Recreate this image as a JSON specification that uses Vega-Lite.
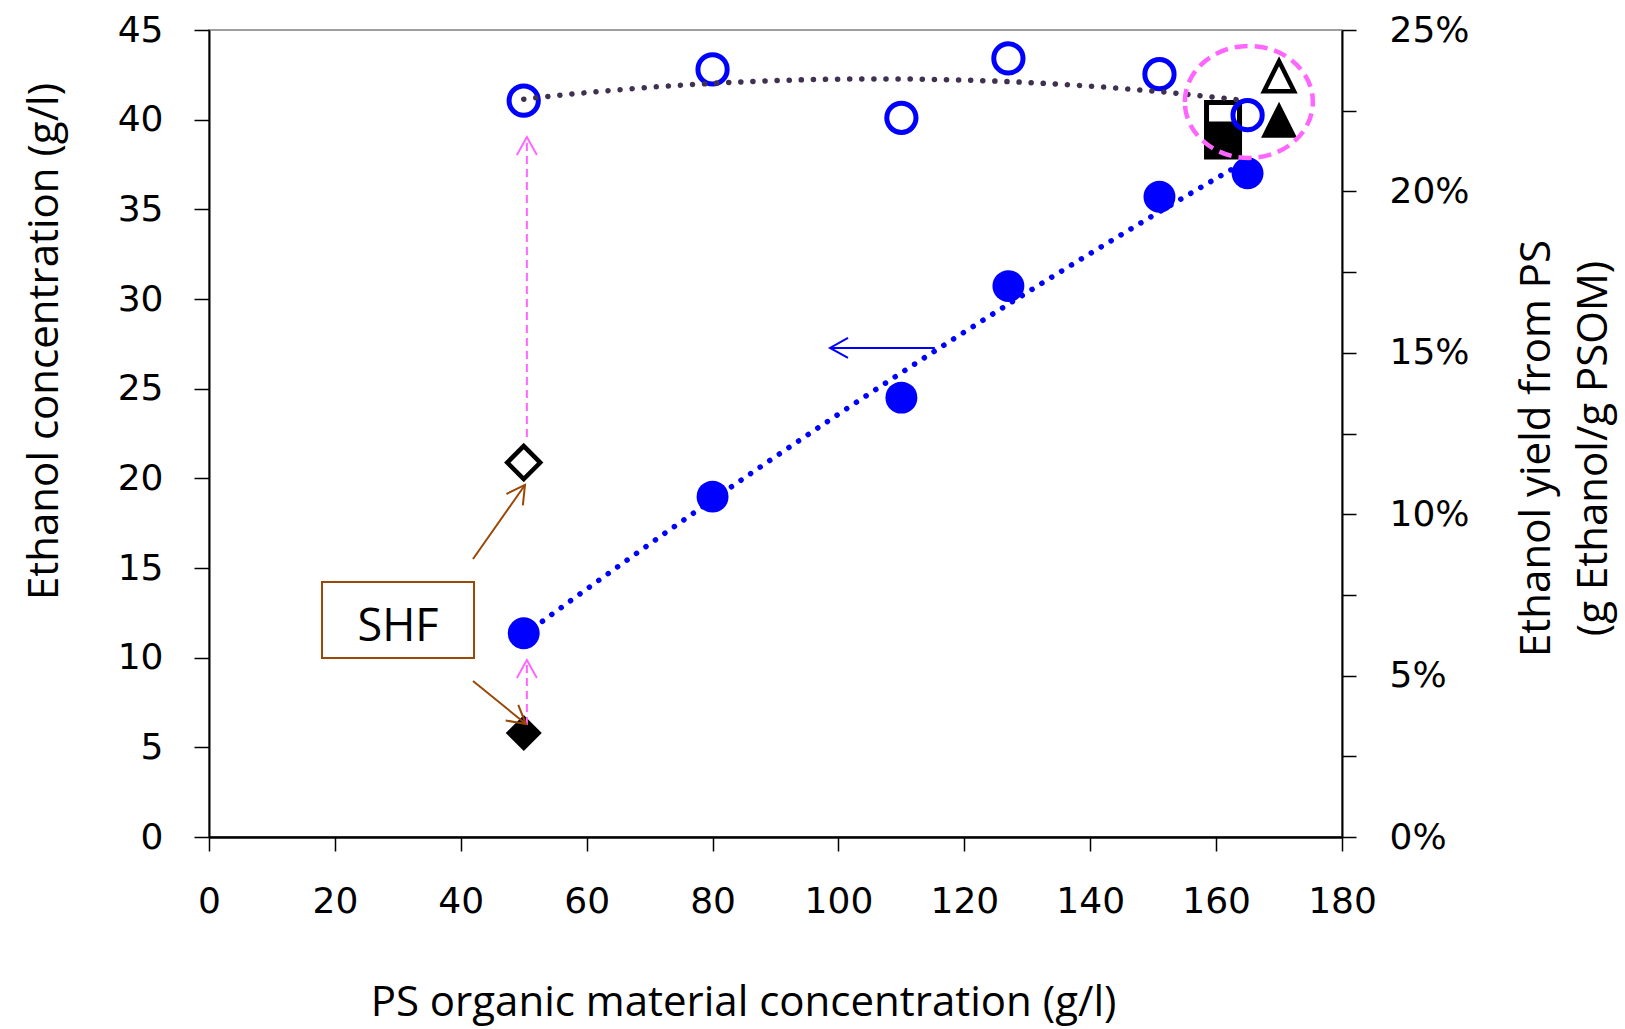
{
  "$schema": "https://vega.github.io/schema/vega-lite/v6.json",
  "width": 1133,
  "height": 807,
  "autosize": {"type": "none"},
  "padding": {"left": 209, "top": 30, "right": 283, "bottom": 192},
  "background": "white",
  "config": {
    "view": {"stroke": "#7f7f7f", "strokeWidth": 1.5},
    "axis": {
      "grid": false,
      "domainColor": "black",
      "tickColor": "black",
      "labelColor": "black",
      "titleColor": "black",
      "labelFont": "DejaVu Sans",
      "labelFontSize": 36,
      "titleFont": "Open Sans",
      "titleFontSize": 42,
      "titleFontWeight": "normal",
      "labelFlush": false,
      "labelOverlap": false
    }
  },
  "datasets": {
    "pts": [
      {"series": "conc", "x": 50, "y": 11.36},
      {"series": "conc", "x": 80, "y": 18.98},
      {"series": "conc", "x": 110, "y": 24.5},
      {"series": "conc", "x": 127, "y": 30.72},
      {"series": "conc", "x": 151, "y": 35.7},
      {"series": "conc", "x": 165, "y": 37.01},
      {"series": "shf_conc", "x": 50, "y": 5.8},
      {"series": "sq_conc", "x": 161.1, "y": 38.84},
      {"series": "tri_conc", "x": 170, "y": 40.0}
    ],
    "yields": [
      {"series": "yield", "x": 50, "y": 0.2281},
      {"series": "yield", "x": 80, "y": 0.2378},
      {"series": "yield", "x": 110, "y": 0.2228},
      {"series": "yield", "x": 127, "y": 0.2412},
      {"series": "yield", "x": 151, "y": 0.2363},
      {"series": "yield", "x": 165, "y": 0.2236},
      {"series": "shf_yield", "x": 50, "y": 0.116},
      {"series": "sq_yield", "x": 161.1, "y": 0.2224},
      {"series": "tri_yield", "x": 170, "y": 0.2357}
    ],
    "pinkShaft": [
      {"id": 1, "x": 50.5, "y": 22.3},
      {"id": 1, "x": 50.5, "y": 39.0},
      {"id": 2, "x": 50.5, "y": 6.25},
      {"id": 2, "x": 50.5, "y": 9.87}
    ],
    "pinkHead": [
      {"x": 50.5, "y": 39.03},
      {"x": 50.5, "y": 9.87}
    ],
    "brownShaft": [
      {"id": 1, "x": 41.94, "y": 15.5},
      {"id": 1, "x": 50.2, "y": 19.63},
      {"id": 2, "x": 41.94, "y": 8.7},
      {"id": 2, "x": 50.35, "y": 6.3}
    ],
    "brownHead1": [{"x": 50.2, "y": 19.63}],
    "brownHead2": [{"x": 50.35, "y": 6.3}],
    "blueShaft": [
      {"id": 1, "x": 115.3, "y": 27.27},
      {"id": 1, "x": 98.66, "y": 27.27}
    ],
    "blueHead": [{"x": 98.66, "y": 27.27}],
    "ellipse": [{"x": 165.2, "y": 40.99}],
    "shf": [{"x": 30.03, "y": 12.1, "label": "SHF"}]
  },
  "encoding": {
    "x": {
      "field": "x",
      "type": "quantitative",
      "scale": {"domain": [0, 180], "nice": false, "zero": false},
      "axis": {
        "orient": "bottom",
        "values": [0, 20, 40, 60, 80, 100, 120, 140, 160, 180],
        "title": "PS organic material concentration (g/l)",
        "tickSize": 14,
        "tickWidth": 1.5,
        "domainWidth": 2.5,
        "labelPadding": 33,
        "titleX": 534,
        "titleY": 165,
        "titleBaseline": "middle",
        "titleAlign": "center"
      }
    }
  },
  "layer": [
    {
      "encoding": {
        "y": {
          "field": "y",
          "type": "quantitative",
          "scale": {"domain": [0, 45], "nice": false, "zero": false},
          "axis": {
            "orient": "left",
            "values": [0, 5, 10, 15, 20, 25, 30, 35, 40, 45],
            "title": "Ethanol concentration (g/l)",
            "tickSize": 15,
            "tickWidth": 1.5,
            "domainWidth": 2,
            "labelPadding": 31,
            "titleAngle": -90,
            "titleX": -165,
            "titleY": 311,
            "titleBaseline": "middle",
            "titleAlign": "center"
          }
        }
      },
      "layer": [
        {
          "data": {"name": "pts"},
          "transform": [{"filter": "datum.series == 'sq_conc'"}],
          "mark": {"type": "point", "shape": "square", "filled": true, "size": 1444, "color": "black", "opacity": 1}
        },
        {
          "data": {"name": "pts"},
          "transform": [{"filter": "datum.series == 'tri_conc'"}],
          "mark": {"type": "point", "shape": "M 0 -1 L 1 1 L -1 1 Z", "filled": true, "size": 1296, "color": "black", "opacity": 1}
        },
        {
          "data": {"name": "pts"},
          "transform": [{"filter": "datum.series == 'shf_conc'"}],
          "mark": {"type": "point", "shape": "diamond", "filled": true, "size": 1296, "color": "black", "opacity": 1}
        },
        {
          "data": {"name": "pts"},
          "transform": [{"filter": "datum.series == 'conc'"}],
          "mark": {"type": "point", "shape": "circle", "filled": true, "size": 1018, "color": "#0000FF", "opacity": 1}
        },
        {
          "data": {"name": "pts"},
          "transform": [
            {"filter": "datum.series == 'conc'"},
            {"regression": "y", "on": "x", "method": "poly", "order": 2, "extent": [50, 165]}
          ],
          "mark": {"type": "line", "color": "#0000FF", "strokeWidth": 5.5, "strokeDash": [0.1, 11.5], "strokeCap": "round"}
        }
      ]
    },
    {
      "encoding": {
        "y": {
          "field": "y",
          "type": "quantitative",
          "scale": {"domain": [0, 0.25], "nice": false, "zero": false},
          "axis": {
            "orient": "right",
            "values": [0, 0.025, 0.05, 0.075, 0.1, 0.125, 0.15, 0.175, 0.2, 0.225, 0.25],
            "labelExpr": "round(datum.value * 1000) % 50 == 0 ? format(datum.value, '.0%') : ''",
            "tickSize": 14,
            "tickWidth": 1.5,
            "domainWidth": 2,
            "labelPadding": 33,
            "title": ["Ethanol yield from PS", "(g Ethanol/g PSOM)"],
            "titleAngle": -90,
            "titleX": 194,
            "titleY": 418,
            "titleBaseline": "middle",
            "titleAlign": "center",
            "titleLineHeight": 57
          }
        }
      },
      "layer": [
        {
          "data": {"name": "yields"},
          "transform": [{"filter": "datum.series == 'sq_yield'"}],
          "mark": {"type": "point", "shape": "square", "filled": false, "size": 1089, "color": "black", "strokeWidth": 5, "opacity": 1}
        },
        {
          "data": {"name": "yields"},
          "transform": [{"filter": "datum.series == 'tri_yield'"}],
          "mark": {"type": "point", "shape": "M 0 -1 L 1 1 L -1 1 Z", "filled": false, "size": 900, "color": "black", "strokeWidth": 4.5, "opacity": 1}
        },
        {
          "data": {"name": "yields"},
          "transform": [{"filter": "datum.series == 'shf_yield'"}],
          "mark": {"type": "point", "shape": "diamond", "filled": false, "size": 1089, "color": "black", "strokeWidth": 4.5, "opacity": 1}
        },
        {
          "data": {"name": "yields"},
          "transform": [{"filter": "datum.series == 'yield'"}],
          "mark": {"type": "point", "shape": "circle", "filled": false, "size": 855, "color": "#0000FF", "strokeWidth": 5, "opacity": 1}
        },
        {
          "data": {"name": "yields"},
          "transform": [
            {"filter": "datum.series == 'yield'"},
            {"regression": "y", "on": "x", "method": "poly", "order": 2, "extent": [50, 165]}
          ],
          "mark": {"type": "line", "color": "#403151", "strokeWidth": 5.5, "strokeDash": [0.1, 12], "strokeCap": "round"}
        }
      ]
    },
    {
      "encoding": {
        "y": {
          "field": "y",
          "type": "quantitative",
          "scale": {"domain": [0, 45], "nice": false, "zero": false},
          "axis": null
        }
      },
      "layer": [
        {
          "data": {"name": "pinkShaft"},
          "mark": {"type": "line", "color": "#FF66FF", "strokeWidth": 2, "strokeDash": [8, 5]},
          "encoding": {"detail": {"field": "id"}}
        },
        {
          "data": {"name": "pinkHead"},
          "mark": {"type": "point", "shape": "M -1 1.8 L 0 0 L 1 1.8", "filled": false, "size": 400, "color": "#FF66FF", "strokeWidth": 2, "opacity": 1, "angle": 0}
        },
        {
          "data": {"name": "brownShaft"},
          "mark": {"type": "line", "color": "#984807", "strokeWidth": 2},
          "encoding": {"detail": {"field": "id"}}
        },
        {
          "data": {"name": "brownHead1"},
          "mark": {"type": "point", "shape": "M -1 1.8 L 0 0 L 1 1.8", "filled": false, "size": 400, "color": "#984807", "strokeWidth": 2, "opacity": 1, "angle": 35}
        },
        {
          "data": {"name": "brownHead2"},
          "mark": {"type": "point", "shape": "M -1 1.8 L 0 0 L 1 1.8", "filled": false, "size": 400, "color": "#984807", "strokeWidth": 2, "opacity": 1, "angle": 129}
        },
        {
          "data": {"name": "blueShaft"},
          "mark": {"type": "line", "color": "#0000FF", "strokeWidth": 2},
          "encoding": {"detail": {"field": "id"}}
        },
        {
          "data": {"name": "blueHead"},
          "mark": {"type": "point", "shape": "M -1 1.8 L 0 0 L 1 1.8", "filled": false, "size": 400, "color": "#0000FF", "strokeWidth": 2, "opacity": 1, "angle": 270}
        },
        {
          "data": {"name": "ellipse"},
          "mark": {"type": "point", "shape": "M -1 0 A 1 0.875 0 1 1 1 0 A 1 0.875 0 1 1 -1 0 Z", "filled": false, "size": 16384, "color": "#FF66FF", "strokeWidth": 4.5, "strokeDash": [13, 7], "opacity": 1}
        },
        {
          "data": {"name": "shf"},
          "mark": {"type": "point", "shape": "M -1 -0.5 L 1 -0.5 L 1 0.5 L -1 0.5 Z", "filled": false, "size": 23104, "color": "#984807", "strokeWidth": 2, "opacity": 1}
        },
        {
          "data": {"name": "shf"},
          "mark": {"type": "text", "font": "Open Sans", "fontSize": 45, "color": "black", "align": "center", "baseline": "alphabetic", "dy": 21},
          "encoding": {"text": {"field": "label"}}
        }
      ]
    }
  ],
  "resolve": {"scale": {"y": "independent"}}
}
